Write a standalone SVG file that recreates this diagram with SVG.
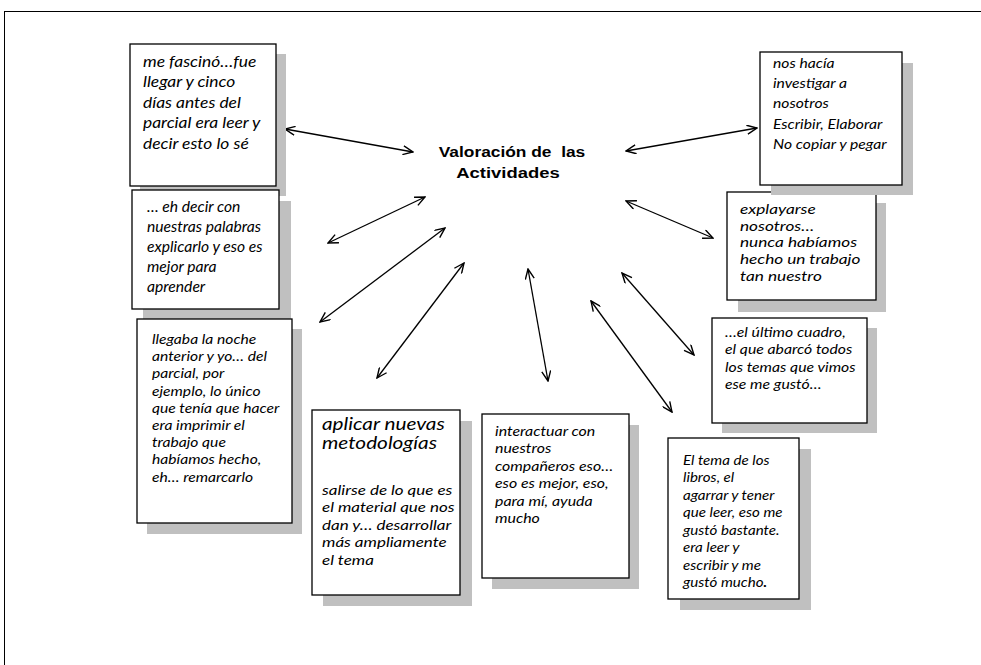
<svg xmlns="http://www.w3.org/2000/svg" width="981" height="665" viewBox="0 0 981 665">
  <style>
    .shadow { fill: #c0c0c0; }
    .box { fill: #ffffff; stroke: #000000; stroke-width: 1.3; }
    .quote { font-family: Lato, "Open Sans", "Liberation Sans", sans-serif; font-style: italic; fill: #000000; }
    .title { font-family: "Liberation Sans", Arial, sans-serif; font-weight: bold; font-size: 15.5px; fill: #000000; white-space: pre; }
    .link { stroke: #000000; stroke-width: 1.3; fill: none; marker-start: url(#head); marker-end: url(#head); }
  </style>
  <defs>
    <marker id="head" viewBox="0 0 12 10" refX="11" refY="5" markerWidth="12" markerHeight="10" markerUnits="userSpaceOnUse" orient="auto-start-reverse">
      <path d="M1,0.5 L11,5 L1,9.5" fill="none" stroke="#000000" stroke-width="1.4"/>
    </marker>
  </defs>

  <rect width="981" height="665" fill="#ffffff"/>
  <!-- page frame -->
  <rect x="4.5" y="11.5" width="1000" height="700" fill="none" stroke="#000000" stroke-width="1"/>

  <!-- central concept -->
  <g id="center">
    <g transform="translate(512 0) scale(1.12 1)">
      <text class="title" x="0" y="157" text-anchor="middle">Valoración de  las</text>
    </g>
    <g transform="translate(508 0) scale(1.19 1)">
      <text class="title" x="0" y="178" text-anchor="middle">Actividades</text>
    </g>
  </g>

  <!-- connectors -->
  <g id="connectors">
    <line class="link" x1="285" y1="129" x2="413" y2="152"/>
    <line class="link" x1="626" y1="151" x2="757" y2="128"/>
    <line class="link" x1="328" y1="243" x2="425" y2="197"/>
    <line class="link" x1="320" y1="322" x2="445" y2="228"/>
    <line class="link" x1="377" y1="378" x2="464" y2="263"/>
    <line class="link" x1="528" y1="269" x2="548" y2="381"/>
    <line class="link" x1="591" y1="301" x2="672" y2="412"/>
    <line class="link" x1="622" y1="273" x2="694" y2="355"/>
    <line class="link" x1="626" y1="201" x2="713" y2="238"/>
  </g>

  <g id="n-fascino">
    <rect class="shadow" x="140" y="54" width="146" height="142"/>
    <rect class="box" x="130" y="44" width="146" height="142"/>
    <g transform="translate(143 0) scale(1.16 1)">
      <text class="quote" font-size="15">
        <tspan x="0" y="67">me fascinó…fue</tspan>
        <tspan x="0" y="87.5">llegar y cinco</tspan>
        <tspan x="0" y="108">días antes del</tspan>
        <tspan x="0" y="128.5">parcial era leer y</tspan>
        <tspan x="0" y="149">decir esto lo sé</tspan>
      </text>
    </g>
  </g>

  <g id="n-decir">
    <rect class="shadow" x="143" y="201" width="148" height="120"/>
    <rect class="box" x="132" y="190" width="147" height="119"/>
    <g transform="translate(147 0) scale(1.08 1)">
      <text class="quote" font-size="14.5">
        <tspan x="0" y="212">… eh decir con</tspan>
        <tspan x="0" y="232">nuestras palabras</tspan>
        <tspan x="0" y="252">explicarlo y eso es</tspan>
        <tspan x="0" y="272">mejor para</tspan>
        <tspan x="0" y="292">aprender</tspan>
      </text>
    </g>
  </g>

  <g id="n-llegaba">
    <rect class="shadow" x="147" y="329" width="155" height="205"/>
    <rect class="box" x="137" y="319" width="155" height="204"/>
    <g transform="translate(152 0) scale(1.16 1)">
      <text class="quote" font-size="13.5">
        <tspan x="0" y="344">llegaba la noche</tspan>
        <tspan x="0" y="361.2">anterior y yo… del</tspan>
        <tspan x="0" y="378.4">parcial, por</tspan>
        <tspan x="0" y="395.6">ejemplo, lo único</tspan>
        <tspan x="0" y="412.8">que tenía que hacer</tspan>
        <tspan x="0" y="430">era imprimir el</tspan>
        <tspan x="0" y="447.2">trabajo que</tspan>
        <tspan x="0" y="464.4">habíamos hecho,</tspan>
        <tspan x="0" y="481.6">eh… remarcarlo</tspan>
      </text>
    </g>
  </g>

  <g id="n-aplicar">
    <rect class="shadow" x="323" y="421" width="149" height="185"/>
    <rect class="box" x="312" y="410" width="148" height="185"/>
    <g transform="translate(322 0) scale(1.26 1)">
      <text class="quote" font-size="16.5">
        <tspan x="0" y="430">aplicar nuevas</tspan>
        <tspan x="0" y="449">metodologías</tspan>
      </text>
      <text class="quote" font-size="13.5">
        <tspan x="0" y="495">salirse de lo que es</tspan>
        <tspan x="0" y="512.5">el material que nos</tspan>
        <tspan x="0" y="530">dan y… desarrollar</tspan>
        <tspan x="0" y="547.5">más ampliamente</tspan>
        <tspan x="0" y="565">el tema</tspan>
      </text>
    </g>
  </g>

  <g id="n-interactuar">
    <rect class="shadow" x="492" y="425" width="147" height="164"/>
    <rect class="box" x="482" y="414" width="147" height="164"/>
    <g transform="translate(495 0) scale(1.18 1)">
      <text class="quote" font-size="13.5">
        <tspan x="0" y="436">interactuar con</tspan>
        <tspan x="0" y="453.5">nuestros</tspan>
        <tspan x="0" y="471">compañeros eso…</tspan>
        <tspan x="0" y="488.5">eso es mejor, eso,</tspan>
        <tspan x="0" y="506">para mí, ayuda</tspan>
        <tspan x="0" y="523.5">mucho</tspan>
      </text>
    </g>
  </g>

  <g id="n-libros">
    <rect class="shadow" x="680" y="449" width="131" height="161"/>
    <rect class="box" x="668" y="438" width="131" height="161"/>
    <g transform="translate(683 0) scale(1.12 1)">
      <text class="quote" font-size="13.5">
        <tspan x="0" y="465">El tema de los</tspan>
        <tspan x="0" y="482.5">libros, el</tspan>
        <tspan x="0" y="500">agarrar y tener</tspan>
        <tspan x="0" y="517.5">que leer, eso me</tspan>
        <tspan x="0" y="535">gustó bastante.</tspan>
        <tspan x="0" y="552.5">era leer y</tspan>
        <tspan x="0" y="570">escribir y me</tspan>
        <tspan x="0" y="587.5">gustó mucho<tspan font-weight="bold">.</tspan></tspan>
      </text>
    </g>
  </g>

  <g id="n-cuadro">
    <rect class="shadow" x="722" y="328" width="155" height="105"/>
    <rect class="box" x="712" y="318" width="155" height="105"/>
    <g transform="translate(725 0) scale(1.17 1)">
      <text class="quote" font-size="13.5">
        <tspan x="0" y="337">…el último cuadro,</tspan>
        <tspan x="0" y="354.5">el que abarcó todos</tspan>
        <tspan x="0" y="372">los temas que vimos</tspan>
        <tspan x="0" y="389.5">ese me gustó…</tspan>
      </text>
    </g>
  </g>

  <g id="n-explayarse">
    <rect class="shadow" x="738" y="203" width="148" height="109"/>
    <rect class="box" x="727" y="192" width="149" height="108"/>
    <g transform="translate(740 0) scale(1.23 1)">
      <text class="quote" font-size="14">
        <tspan x="0" y="214">explayarse</tspan>
        <tspan x="0" y="230.7">nosotros…</tspan>
        <tspan x="0" y="247.4">nunca habíamos</tspan>
        <tspan x="0" y="264.1">hecho un trabajo</tspan>
        <tspan x="0" y="280.8">tan nuestro</tspan>
      </text>
    </g>
  </g>

  <g id="n-investigar">
    <rect class="shadow" x="771" y="63" width="142" height="132"/>
    <rect class="box" x="760" y="52" width="142" height="133"/>
    <g transform="translate(773 0) scale(1.21 1)">
      <text class="quote" font-size="13">
        <tspan x="0" y="68">nos hacía</tspan>
        <tspan x="0" y="88">investigar a</tspan>
        <tspan x="0" y="108">nosotros</tspan>
        <tspan x="0" y="129">Escribir, Elaborar</tspan>
        <tspan x="0" y="149">No copiar y pegar</tspan>
      </text>
    </g>
  </g>
</svg>
